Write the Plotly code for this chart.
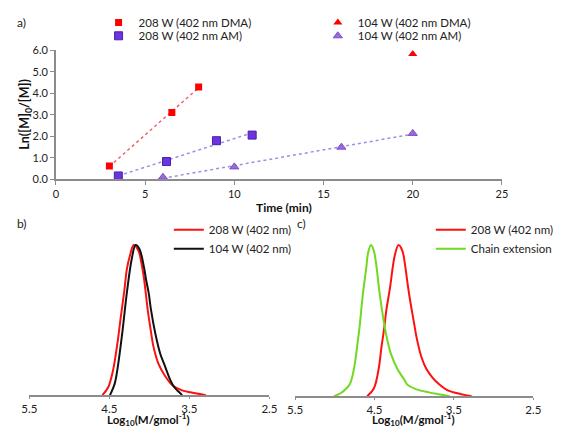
import numpy as np
import plotly.graph_objects as go

# The page keeps the browser's default 8px body margin, so the figure is sized to fit
# inside the 567x439 window; positions below are given in window pixels.
PAGE_W, PAGE_H = 567, 439
OFF = 8
W, H = PAGE_W - 2 * OFF, PAGE_H - 2 * OFF

# ---------------- Panel a data ----------------
time_208_dma = [3.0, 6.5, 8.0]
ln_208_dma = [0.61, 3.10, 4.29]
time_208_am = [3.5, 6.2, 9.0, 11.0]
ln_208_am = [0.15, 0.82, 1.79, 2.05]
time_104_dma = [20.0]
ln_104_dma = [5.82]
time_104_am = [6.0, 10.0, 16.0, 20.0]
ln_104_am = [0.09, 0.57, 1.49, 2.13]
time_ticks = [0, 5, 10, 15, 20, 25]
ln_ticks = [0, 1, 2, 3, 4, 5, 6]

# ---------------- Panel b data ----------------
logm_b_208 = [4.587, 4.516, 4.456, 4.397, 4.362, 4.314, 4.279, 4.243, 4.196, 4.136,
              4.101, 4.065, 4.018, 3.982, 3.947, 3.887, 3.804, 3.709, 3.591, 3.425, 3.294]
w_b_208 = [0.0, 0.051, 0.160, 0.353, 0.500, 0.692, 0.846, 0.929, 1.0, 0.962,
           0.885, 0.769, 0.558, 0.430, 0.320, 0.210, 0.128, 0.064, 0.032, 0.013, 0.0]
logm_b_104 = [4.492, 4.433, 4.397, 4.338, 4.279, 4.219, 4.172, 4.124, 4.065, 4.041,
              4.006, 3.982, 3.923, 3.864, 3.804, 3.745, 3.686, 3.626, 3.591]
w_b_104 = [0.0, 0.077, 0.179, 0.417, 0.692, 0.910, 1.0, 0.974, 0.846, 0.769,
           0.673, 0.577, 0.404, 0.276, 0.192, 0.109, 0.051, 0.019, 0.0]

# ---------------- Panel c data ----------------
logm_c_208 = [4.592, 4.508, 4.448, 4.412, 4.377, 4.353, 4.305, 4.245, 4.197, 4.149,
              4.114, 4.090, 4.054, 4.006, 3.970, 3.910, 3.851, 3.767, 3.695, 3.576, 3.408, 3.277]
w_c_208 = [0.0, 0.051, 0.178, 0.325, 0.452, 0.560, 0.715, 0.930, 1.0, 0.962,
           0.866, 0.771, 0.643, 0.497, 0.389, 0.261, 0.185, 0.121, 0.083, 0.038, 0.013, 0.0]
logm_c_ext = [5.010, 4.926, 4.843, 4.807, 4.783, 4.747, 4.711, 4.687, 4.663, 4.639, 4.604,
              4.580, 4.544, 4.508, 4.472, 4.448, 4.412, 4.353, 4.293, 4.209, 4.114, 4.090,
              3.970, 3.815, 3.695, 3.552]
w_c_ext = [0.0, 0.019, 0.057, 0.083, 0.121, 0.217, 0.360, 0.460, 0.590, 0.707, 0.847,
           0.949, 1.0, 0.962, 0.847, 0.735, 0.592, 0.408, 0.280, 0.178, 0.100, 0.078,
           0.045, 0.025, 0.013, 0.0]
logm_ticks = [5.5, 4.5, 3.5, 2.5]

FONT = "Lato"
RED = "#FF0000"
PURPLE_SQ = "#6A35DB"
PURPLE_TRI = "#9A6ADB"
AXIS = "#8C8C8C"
TXT = "#222222"


def fx(s):
    """window x pixel -> paper fraction"""
    return (s - OFF) / W


def fy(s):
    """window y pixel -> paper fraction"""
    return 1 - (s - OFF) / H


fig = go.Figure()


def fit_line(xs, ys, color):
    k, b = np.polyfit(xs, ys, 1)
    xl = [min(xs), max(xs)]
    yl = [k * v + b for v in xl]
    fig.add_trace(go.Scatter(x=xl, y=yl, mode="lines", showlegend=False,
                             line=dict(color=color, width=1.5, dash="dot"),
                             hoverinfo="skip", xaxis="x", yaxis="y"))


fit_line(time_208_dma, ln_208_dma, "#F0606A")
fit_line(time_208_am, ln_208_am, "#9C8FE0")
fit_line(time_104_am, ln_104_am, "#9C8FE0")

fig.add_trace(go.Scatter(x=time_208_dma, y=ln_208_dma, mode="markers", name="208 W (402 nm DMA)",
                         marker=dict(symbol="square", size=7, color=RED, line=dict(width=0)),
                         xaxis="x", yaxis="y", legend="legend"))
fig.add_trace(go.Scatter(x=time_208_am, y=ln_208_am, mode="markers", name="208 W (402 nm AM)",
                         marker=dict(symbol="square", size=8, color=PURPLE_SQ,
                                     line=dict(width=1, color="#4A1FB0")),
                         xaxis="x", yaxis="y", legend="legend3"))
fig.add_trace(go.Scatter(x=time_104_dma, y=ln_104_dma, mode="markers", name="104 W (402 nm DMA)",
                         marker=dict(symbol="triangle-up", size=8, color=RED, line=dict(width=0)),
                         xaxis="x", yaxis="y", legend="legend2"))
fig.add_trace(go.Scatter(x=time_104_am, y=ln_104_am, mode="markers", name="104 W (402 nm AM)",
                         marker=dict(symbol="triangle-up", size=8, color=PURPLE_TRI,
                                     line=dict(width=1, color="#7A4FCC")),
                         xaxis="x", yaxis="y", legend="legend4"))

# panel b
fig.add_trace(go.Scatter(x=logm_b_208, y=w_b_208, mode="lines", name="208 W (402 nm)",
                         line=dict(color="#FF1010", width=2, shape="spline", smoothing=1.0),
                         xaxis="x2", yaxis="y2", legend="legend5"))
fig.add_trace(go.Scatter(x=logm_b_104, y=w_b_104, mode="lines", name="104 W (402 nm)",
                         line=dict(color="#111111", width=2, shape="spline", smoothing=1.0),
                         xaxis="x2", yaxis="y2", legend="legend5"))
# panel c
fig.add_trace(go.Scatter(x=logm_c_208, y=w_c_208, mode="lines", name="208 W (402 nm)",
                         line=dict(color="#FF1010", width=2, shape="spline", smoothing=1.0),
                         xaxis="x3", yaxis="y3", legend="legend6"))
fig.add_trace(go.Scatter(x=logm_c_ext, y=w_c_ext, mode="lines", name="Chain extension",
                         line=dict(color="#72D820", width=2, shape="spline", smoothing=1.0),
                         xaxis="x3", yaxis="y3", legend="legend6"))

tickfont_a = dict(family=FONT, size=11, color=TXT)
tickfont_bc = dict(family=FONT, size=11.5, color=TXT)
legfont = dict(family=FONT, size=11.5, color=TXT)

axis_style = dict(showline=True, linecolor=AXIS, linewidth=1.5, ticks="outside", ticklen=4,
                  tickcolor=AXIS, tickwidth=1, showgrid=False, zeroline=False)
axis_style_bc = dict(axis_style, ticklen=2)


def single_legend(text_x, yc):
    return dict(x=fx(text_x) - 40 / W, y=fy(yc), xanchor="left", yanchor="middle",
                bgcolor="rgba(0,0,0,0)", font=legfont, borderwidth=0)


def ann(text, xs, ys, xanchor="left", yanchor="middle", size=12, bold=False, angle=0):
    return dict(text=f"<b>{text}</b>" if bold else text, x=fx(xs), y=fy(ys),
                xref="paper", yref="paper", xanchor=xanchor, yanchor=yanchor,
                showarrow=False, textangle=angle, borderpad=0,
                font=dict(family=FONT, size=size, color="#111111" if bold else TXT))


fig.update_layout(
    width=W, height=H,
    margin=dict(l=0, r=0, t=0, b=0),
    paper_bgcolor="white", plot_bgcolor="white",
    font=dict(family=FONT),
    xaxis=dict(domain=[fx(50), fx(520)], range=[0, 25], tickvals=time_ticks,
               anchor="y", tickfont=tickfont_a, **axis_style),
    yaxis=dict(domain=[fy(175.5), fy(41.5)], range=[0, 6], tickvals=ln_ticks,
               tickformat=".1f", anchor="x", tickfont=tickfont_a, **axis_style),
    xaxis2=dict(domain=[fx(22), fx(275)], range=[5.5, 2.5], tickvals=logm_ticks,
                tickformat=".1f", anchor="y2", tickfont=tickfont_bc, **axis_style_bc),
    yaxis2=dict(domain=[fy(400), fy(233)], range=[0, 167 / 156], visible=False, anchor="x2"),
    xaxis3=dict(domain=[fx(302), fx(553)], range=[5.5, 2.5], tickvals=logm_ticks,
                tickformat=".1f", anchor="y3", tickfont=tickfont_bc, **axis_style_bc),
    yaxis3=dict(domain=[fy(401), fy(234)], range=[0, 167 / 157], visible=False, anchor="x3"),
    legend=single_legend(135, 12.5),
    legend2=single_legend(366, 12.5),
    legend3=single_legend(135, 26.5),
    legend4=single_legend(366, 26.5),
    legend5=dict(x=fx(209) - 40 / W, y=fy(213), xanchor="left", yanchor="top",
                 bgcolor="rgba(0,0,0,0)", font=legfont),
    legend6=dict(x=fx(485) - 40 / W, y=fy(213), xanchor="left", yanchor="top",
                 bgcolor="rgba(0,0,0,0)", font=legfont),
    annotations=[
        ann("a)", 8, 12.5),
        ann("b)", 8, 222),
        ann("c)", 303, 222),
        ann("Time (min)", 290, 205, xanchor="center", bold=True),
        ann("Ln([M]<sub>0</sub>/[M])", 8, 108, xanchor="left", bold=True, angle=-90, size=12.5),
        ann("Log<sub>10</sub>(M/gmol<sup>-1</sup>)", 148, 435, xanchor="center",
            yanchor="bottom", bold=True, size=11.5),
        ann("Log<sub>10</sub>(M/gmol<sup>-1</sup>)", 427, 435, xanchor="center",
            yanchor="bottom", bold=True, size=11.5),
    ],
)

fig.write_html("out.html", config={"displayModeBar": False})
